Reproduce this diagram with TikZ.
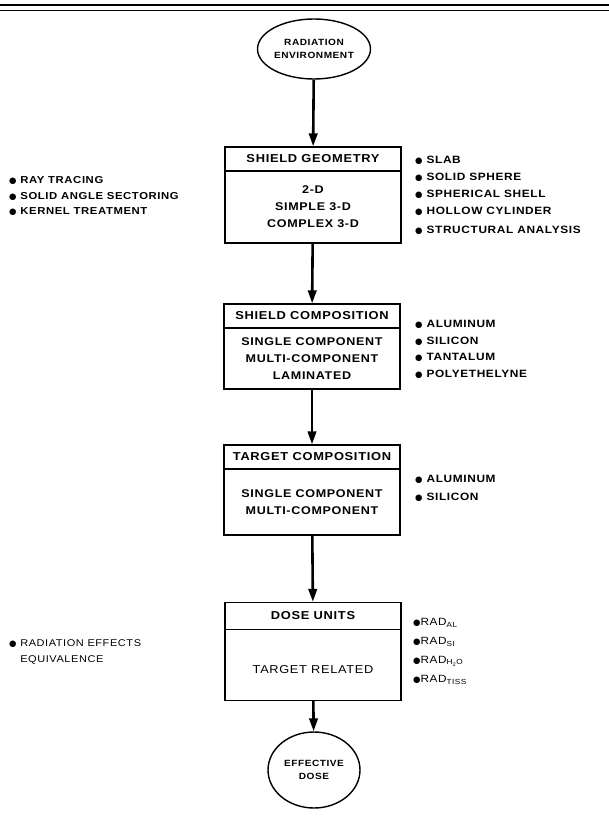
\documentclass[tikz,border=0pt]{standalone}
\usepackage{fontspec}
\setmainfont{Liberation Sans}[FakeStretch=1.12,LetterSpace=6]
\newfontfamily\symfont{DejaVu Sans}
\usetikzlibrary{positioning,arrows.meta,shapes.geometric}
\newcommand{\bul}{{\symfont\fontsize{8.5}{8.5}\selectfont ●}}

\begin{document}
\begin{tikzpicture}[x=1pt, y=-1pt,
  hd/.style={draw, line width=1.4pt, minimum width=176pt, minimum height=24pt, inner sep=0pt, font=\bfseries\fontsize{11.5}{13}\selectfont},
  bd/.style={draw, line width=1.4pt, minimum width=176pt, inner sep=0pt, align=center, font=\bfseries\fontsize{11.2}{17}\selectfont},
  oval/.style={ellipse, draw, line width=1.4pt, inner sep=0pt, align=center, font=\bfseries\fontsize{9}{13.5}\selectfont},
  itm/.style={anchor=west, inner sep=0pt, font=\bfseries\fontsize{10.6}{12}\selectfont},
  flow/.style={-{Triangle[length=13pt,width=8.5pt]}, line width=2.6pt}]
\useasboundingbox (0,0) rectangle (609,824);
\draw[line width=2pt] (0,5) -- (609,5);
\draw[line width=1.5pt] (0,10.5) -- (609,10.5);
% main chain
\node[oval, minimum width=88pt, minimum height=60pt] (env) at (314,49) {RADIATION\\ENVIRONMENT};
\node[hd] (hgeo) at (313,159) {SHIELD GEOMETRY};
\node[bd, minimum height=72pt, below=-1.4pt of hgeo] (bgeo) {2-D\\SIMPLE 3-D\\COMPLEX 3-D};
\node[hd] (hcomp) at (312,316) {SHIELD COMPOSITION};
\node[bd, minimum height=61pt, below=-1.4pt of hcomp] (bcomp) {SINGLE COMPONENT\\MULTI-COMPONENT\\LAMINATED};
\node[hd] (htgt) at (312,457) {TARGET COMPOSITION};
\node[bd, minimum height=66pt, below=-1.4pt of htgt] (btgt) {SINGLE COMPONENT\\MULTI-COMPONENT};
\node[hd, minimum height=27pt] (hdose) at (313,616) {DOSE UNITS};
\node[bd, minimum height=71pt, below=-1.4pt of hdose, font=\fontsize{11.4}{13}\selectfont] (bdose) {\mbox{}\\[5pt]TARGET RELATED};
\node[oval, minimum width=92pt, minimum height=76pt] (eff) at (314,770) {EFFECTIVE\\DOSE};
\draw[flow] (env) -- (hgeo);
\draw[flow] (bgeo) -- (hcomp);
\draw[flow] (bcomp) -- (htgt);
\draw[flow] (btgt) -- (hdose);
\draw[flow] (bdose) -- (eff);
% methods, left
\node[itm, font=\bfseries\fontsize{10.1}{12}\selectfont] (ray) at (9,180) {\bul\ RAY TRACING};
\node[itm, font=\bfseries\fontsize{10.1}{12}\selectfont] (sect) at (9,196) {\bul\ SOLID ANGLE SECTORING};
\node[itm, font=\bfseries\fontsize{10.1}{12}\selectfont] (kern) at (9,212) {\bul\ KERNEL TREATMENT};
\node[itm, font=\fontsize{9.8}{16}\selectfont, align=left] (equiv) at (9,652) {\bul\ RADIATION EFFECTS\\\phantom{\bul\ }EQUIVALENCE};
% geometries, right
\node[itm] (slab) at (415,160) {\bul\ SLAB};
\node[itm] (solid) at (415,177) {\bul\ SOLID SPHERE};
\node[itm] (shell) at (415,194) {\bul\ SPHERICAL SHELL};
\node[itm] (cyl) at (415,211) {\bul\ HOLLOW CYLINDER};
\node[itm] (struct) at (415,230) {\bul\ STRUCTURAL ANALYSIS};
% materials, right
\node[itm] (al1) at (415,324) {\bul\ ALUMINUM};
\node[itm] (si1) at (415,341) {\bul\ SILICON};
\node[itm] (ta1) at (415,357) {\bul\ TANTALUM};
\node[itm] (pe1) at (415,374) {\bul\ POLYETHELYNE};
\node[itm] (al2) at (415,479) {\bul\ ALUMINUM};
\node[itm] (si2) at (415,497) {\bul\ SILICON};
% units, right
\node[itm, font=\fontsize{10.5}{12}\selectfont] (radal) at (413,623) {\bul RAD\textsubscript{AL}};
\node[itm, font=\fontsize{10.5}{12}\selectfont] (radsi) at (413,642) {\bul RAD\textsubscript{SI}};
\node[itm, font=\fontsize{10.5}{12}\selectfont] (radw) at (413,661) {\bul RAD\textsubscript{H\textsubscript{2}O}};
\node[itm, font=\fontsize{10.5}{12}\selectfont] (radt) at (413,680) {\bul RAD\textsubscript{TISS}};
\end{tikzpicture}
\end{document}
